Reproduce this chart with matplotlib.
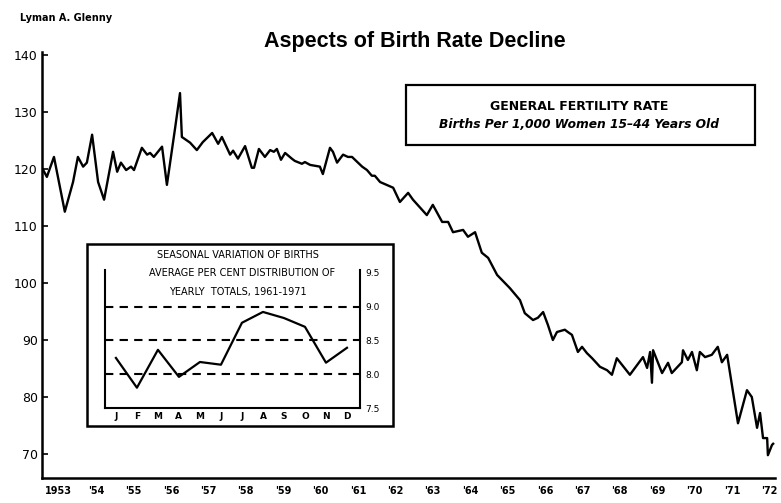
import matplotlib
matplotlib.use("Agg")
import matplotlib.pyplot as plt
from matplotlib.patches import Rectangle

# General fertility rate (births per 1,000 women 15-44)
fgr_year = [1953.00, 1953.13, 1953.32, 1953.61, 1953.83, 1953.96, 1954.10, 1954.20,
            1954.34, 1954.50, 1954.66, 1954.90, 1955.01, 1955.11, 1955.25, 1955.38,
            1955.46, 1955.67, 1955.81, 1955.89, 1955.99, 1956.21, 1956.34, 1956.56,
            1956.69, 1956.74, 1956.96, 1957.14, 1957.30, 1957.55, 1957.71, 1957.81,
            1958.03, 1958.11, 1958.24, 1958.43, 1958.61, 1958.67, 1958.80, 1958.96,
            1959.10, 1959.20, 1959.28, 1959.39, 1959.50, 1959.68, 1959.76, 1959.95,
            1960.03, 1960.17, 1960.43, 1960.51, 1960.70, 1960.78, 1960.89, 1961.05,
            1961.18, 1961.29, 1961.56, 1961.69, 1961.82, 1961.90,
            1962.04, 1962.39, 1962.57, 1962.79, 1962.92, 1963.29,
            1963.45, 1963.70, 1963.86, 1963.99, 1964.26, 1964.39, 1964.58, 1964.76,
            1964.93, 1965.17, 1965.51, 1965.78, 1965.91, 1966.13, 1966.26, 1966.40,
            1966.53, 1966.66, 1966.77, 1966.98, 1967.06, 1967.17, 1967.33, 1967.44,
            1967.57, 1967.71, 1967.92, 1968.11, 1968.24, 1968.37, 1968.72, 1969.07,
            1969.18, 1969.26, 1969.31, 1969.34, 1969.58, 1969.74, 1969.84, 1970.11,
            1970.14, 1970.27, 1970.38, 1970.51, 1970.59, 1970.73, 1970.91, 1971.07,
            1971.18, 1971.32, 1971.61, 1971.85, 1971.98, 1972.12, 1972.20, 1972.28,
            1972.39, 1972.41, 1972.52, 1972.55]
fgr_rate = [120.2, 118.6, 122.1, 112.5, 117.7, 122.1, 120.4, 121.1,
            126.0, 117.7, 114.6, 123.0, 119.5, 121.1, 119.8, 120.4,
            119.8, 123.7, 122.5, 122.8, 122.1, 123.9, 117.2, 127.2,
            133.3, 125.6, 124.6, 123.3, 124.7, 126.3, 124.4, 125.6,
            122.5, 123.2, 121.8, 124.0, 120.2, 120.2, 123.5, 122.1,
            123.3, 123.0, 123.5, 121.6, 122.8, 121.8, 121.4, 120.9,
            121.2, 120.7, 120.4, 119.1, 123.7, 123.0, 121.1, 122.5,
            122.1, 122.1, 120.4, 119.8, 118.8, 118.8,
            117.7, 116.7, 114.2, 115.8, 114.6, 111.9,
            113.7, 110.7, 110.7, 108.9, 109.3, 108.1, 108.9, 105.3,
            104.4, 101.4, 99.1, 97.0, 94.7, 93.5, 93.9, 94.9,
            92.6, 90.0, 91.4, 91.8, 91.4, 90.9, 87.9, 88.8,
            87.7, 86.8, 85.3, 84.7, 83.9, 86.8, 83.9, 87.0,
            85.1, 87.9, 82.5, 88.2, 84.2, 86.0, 84.2, 86.1,
            88.2, 86.5, 87.9, 84.7, 87.9, 87.0, 87.4, 88.8,
            86.1, 87.4, 75.4, 81.2, 80.0, 74.6, 77.2, 72.8,
            72.8, 69.8, 71.6, 71.8]

year_ticks = list(range(1953, 1973))
year_labels = ["1953"] + ["'%02d" % (y % 100) for y in range(1954, 1973)]
rate_ticks = [70, 80, 90, 100, 110, 120, 130, 140]

# inset: seasonal variation of births, per cent of yearly total 1961-1971
months = list(range(1, 13))
month_labels = ["J", "F", "M", "A", "M", "J", "J", "A", "S", "O", "N", "D"]
seasonal = [8.24, 7.80, 8.36, 7.96, 8.18, 8.14, 8.76, 8.92, 8.83, 8.70, 8.17, 8.39]
pct_ticks = [7.5, 8.0, 8.5, 9.0, 9.5]
dashed_levels = [8.0, 8.5, 9.0]

W, H = 781, 503


def fx(px):
    return px / W


def fy(py):
    return 1 - py / H


fig = plt.figure(figsize=(W / 100, H / 100), dpi=100)

# main chart
ax = fig.add_axes([fx(42), fy(478), fx(775) - fx(42), fy(52) - fy(478)])
ax.plot(fgr_year, fgr_rate, color="black", lw=1.7)
ax.set_xlim(1953.0, 1972.6)
ax.set_ylim(65.8, 140.5)
for s in ["top", "right"]:
    ax.spines[s].set_visible(False)
ax.spines["left"].set_linewidth(1.8)
ax.spines["bottom"].set_linewidth(1.8)
ax.set_yticks(rate_ticks)
ax.set_yticklabels([str(v) for v in rate_ticks])
ax.tick_params(axis="y", direction="in", length=4, width=1.2, labelsize=9, pad=3)
ax.set_xticks([y + 0.45 for y in year_ticks])
ax.set_xticklabels(year_labels, fontweight="bold")
ax.tick_params(axis="x", length=0, labelsize=7, pad=6)

# titles
fig.text(fx(20), fy(18), "Lyman A. Glenny", fontsize=7, fontweight="bold",
         ha="left", va="center")
fig.text(fx(415), fy(41), "Aspects of Birth Rate Decline", fontsize=15.5,
         fontweight="bold", ha="center", va="center", family="Liberation Sans")

# legend box
fig.add_artist(Rectangle((fx(406), fy(145)), fx(755) - fx(406), fy(85) - fy(145),
                         transform=fig.transFigure, fill=False, lw=1.6, color="black"))
fig.text(fx(579), fy(107), "GENERAL FERTILITY RATE", fontsize=9, fontweight="bold",
         ha="center", va="center")
fig.text(fx(579), fy(125), "Births Per 1,000 Women 15\u201344 Years Old", fontsize=8.8,
         fontweight="bold", style="italic", ha="center", va="center")

# inset frame
fig.add_artist(Rectangle((fx(87), fy(426)), fx(393) - fx(87), fy(244) - fy(426),
                         transform=fig.transFigure, fill=False, lw=1.8, color="black"))

ax2 = fig.add_axes([fx(105), fy(408), fx(360) - fx(105), fy(270) - fy(408)])
ax2.patch.set_alpha(0)
ax2.plot(months, seasonal, color="black", lw=1.6)
for v in dashed_levels:
    ax2.axhline(v, color="black", lw=1.5, ls=(0, (4, 3)))
ax2.set_xlim(0.48, 12.62)
ax2.set_ylim(7.5, 9.54)
ax2.spines["top"].set_visible(False)
for s in ["left", "right", "bottom"]:
    ax2.spines[s].set_linewidth(1.5)
ax2.yaxis.tick_right()
ax2.set_yticks(pct_ticks)
ax2.set_yticklabels(["%.1f" % v for v in pct_ticks])
ax2.tick_params(axis="y", length=0, labelsize=6.5, pad=4)
ax2.set_xticks(months)
ax2.set_xticklabels(month_labels, fontweight="bold")
ax2.tick_params(axis="x", length=0, labelsize=6.5, pad=3)

fig.text(fx(238), fy(255), "SEASONAL VARIATION OF BIRTHS", fontsize=7,
         ha="center", va="center")
fig.text(fx(242), fy(273), "AVERAGE PER CENT DISTRIBUTION OF", fontsize=7,
         ha="center", va="center")
fig.text(fx(238), fy(292), "YEARLY  TOTALS, 1961-1971", fontsize=7,
         ha="center", va="center")

fig.savefig("out.png", dpi=100)
